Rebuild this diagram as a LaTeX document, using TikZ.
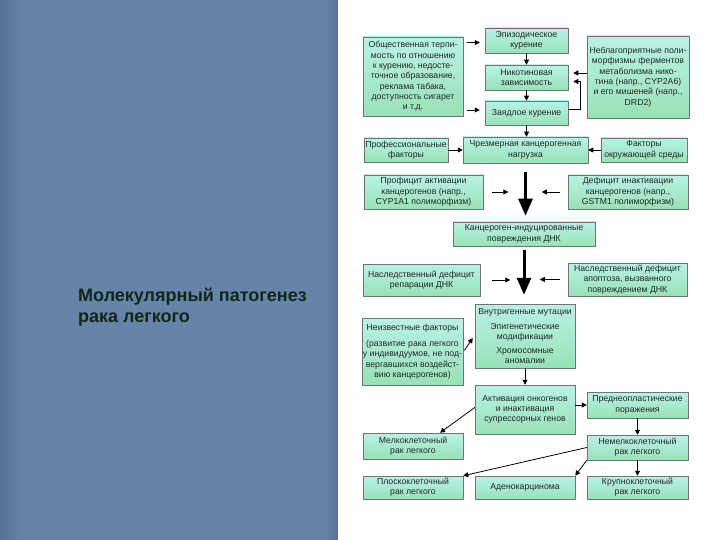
\documentclass[tikz,border=0pt]{standalone}
\usepackage{fontspec}
\setmainfont{Liberation Sans}
\usetikzlibrary{arrows.meta,calc}
\definecolor{bgblue}{RGB}{102,131,169}
\definecolor{bgdark}{RGB}{86,113,152}
\definecolor{boxtop}{RGB}{184,242,230}
\definecolor{boxbot}{RGB}{152,226,182}
\definecolor{titlecol}{RGB}{14,40,22}
\begin{document}
\begin{tikzpicture}[x=1pt,y=-1pt,
  box/.style={draw=black!55, line width=0.5pt, top color=boxtop, bottom color=boxbot,
    align=center, inner sep=1pt, font=\fontsize{8.7}{10.3}\selectfont, text=black!85},
  arr/.style={line width=0.8pt, -{Triangle[length=5pt,width=5pt]}},
  bigarr/.style={line width=3pt, -{Triangle[length=17pt,width=14pt]}}]
\useasboundingbox (0,0) rectangle (720,540);
\fill[bgblue] (0,0) rectangle (338,540);
\shade[left color=bgdark, right color=bgblue] (0,0) rectangle (25,540);
\shade[left color=bgblue, right color=bgdark] (326,0) rectangle (338,540);
\fill[white] (338,0) rectangle (720,540);

\node[anchor=north west, align=left, inner sep=0pt, text=titlecol,
  font=\fontsize{18}{21}\selectfont\bfseries] (title) at (78,288)
  {Молекулярный патогенез\\рака легкого};

% row 1
\node[box, minimum width=100pt, minimum height=79pt] (b1) at (413,76.5)
  {Общественная терпи-\\мость по отношению\\к курению, недосте-\\точное образование,\\реклама табака,\\доступность сигарет\\и т.д.};
\node[box, minimum width=83pt, minimum height=25pt] (b2) at (526.5,40.5) {Эпизодическое\\курение};
\node[box, minimum width=83pt, minimum height=25pt] (b3) at (526.5,77.5) {Никотиновая\\зависимость};
\node[box, minimum width=83pt, minimum height=24pt] (b4) at (526.5,113) {Заядлое курение};
\node[box, minimum width=102pt, minimum height=82pt] (b5) at (638,77)
  {Неблагоприятные поли-\\морфизмы ферментов\\метаболизма нико-\\тина (напр., CYP2A6)\\и его мишеней (напр.,\\DRD2)};

% row 2
\node[box, minimum width=84pt, minimum height=24pt] (b6) at (406,150) {Профессиональные\\факторы};
\node[box, minimum width=125pt, minimum height=26pt] (b7) at (525.5,150) {Чрезмерная канцерогенная\\нагрузка};
\node[box, minimum width=86pt, minimum height=24pt] (b8) at (644,150) {Факторы\\окружающей среды};

\node[box, minimum width=119pt, minimum height=34pt] (b9) at (423.5,192) {Профицит активации\\канцерогенов (напр.,\\CYP1A1 полиморфизм)};
\node[box, minimum width=120pt, minimum height=34pt] (b10) at (628,192) {Дефицит инактивации\\канцерогенов (напр.,\\GSTM1 полиморфизм)};

\node[box, minimum width=142pt, minimum height=24pt] (b11) at (524,234) {Канцероген-индуцированные\\повреждения ДНК};

\node[box, minimum width=117pt, minimum height=32pt] (b12) at (421.5,280) {Наследственный дефицит\\репарации ДНК};
\node[box, minimum width=119pt, minimum height=33pt] (b13) at (627.5,279.5) {Наследственный дефицит\\апоптоза, вызванного\\повреждением ДНК};

\node[box, minimum width=100pt, minimum height=64pt] (b14) at (525,336)
  {Внутригенные мутации\\[5pt]Эпигенетические\\модификации\\[3pt]Хромосомные\\аномалии};
\node[box, minimum width=99pt, minimum height=67pt] (b15) at (412.5,351.5)
  {Неизвестные факторы\\[6pt](развитие рака легкого\\у индивидуумов, не под-\\вергавшихся воздейст-\\вию канцерогенов)};

\node[box, minimum width=100pt, minimum height=49pt] (b16) at (525,409.5) {Активация онкогенов\\и инактивация\\супрессорных генов};
\node[box, minimum width=101pt, minimum height=26pt] (b17) at (637.5,405) {Преднеопластические\\поражения};

\node[box, minimum width=100pt, minimum height=26pt] (b18) at (413,446) {Мелкоклеточный\\рак легкого};
\node[box, minimum width=101pt, minimum height=25pt] (b19) at (637.5,447.5) {Немелкоклеточный\\рак легкого};

\node[box, minimum width=100pt, minimum height=23pt] (b20) at (413,487.5) {Плоскоклеточный\\рак легкого};
\node[box, minimum width=100pt, minimum height=23pt] (b21) at (525,487.5) {Аденокарцинома};
\node[box, minimum width=101pt, minimum height=23pt] (b22) at (637.5,487.5) {Крупноклеточный\\рак легкого};

% connectors, top part
\coordinate (s2) at ($(b1.east |- b2.west)+(4,2)$);
\coordinate (e2) at ($(b2.west)+(-5,2)$);
\draw[arr] (s2) -- (e2);
\coordinate (s4) at ($(b1.east |- b4.west)+(4,-3)$);
\coordinate (e4) at ($(b4.west)+(-5,-3)$);
\draw[arr] (s4) -- (e4);
\draw[arr] (b2) -- (b3);
\draw[arr] (b3) -- (b4);
\draw[arr] (b4) -- (b4.south |- b7.north);
\coordinate (f1) at ($(b5.west)+(0,-4)$);
\coordinate (f1e) at ($(b3.east |- f1)+(5,0)$);
\draw[arr] (f1) -- (f1e);
\coordinate (f2) at ($(b4.east)+(0,-4)$);
\coordinate (f2e) at ($(b3.east)+(5,4)$);
\draw[arr] (f2) -- ++(12,0) |- (f2e);

\draw[arr] (b6) -- (b7);
\draw[arr] (b8) -- (b7);

\draw[bigarr, shorten <=9pt, shorten >=6pt] (b7.south) -- (b7.south |- b11.north);
\draw[arr] ([xshift=9pt]b9.east) -- ([xshift=25pt]b9.east);
\draw[arr] ([xshift=-8pt]b10.west) -- ([xshift=-26pt]b10.west);

\draw[bigarr, shorten <=4pt, shorten >=9pt] (b11.south) -- (b11.south |- b14.north);
\draw[arr] ([xshift=12pt]b12.east) -- ([xshift=30pt]b12.east);
\draw[arr] ([xshift=-8pt]b13.west) -- ([xshift=-28pt]b13.west);

\draw[arr] ($(b15.east)+(1,-1)$) -- ($(b14.west)+(-2,2)$);
\draw[arr] (b14) -- (b16);
\draw[arr] (b16.east |- b17.west) -- (b17.west);
\draw[arr] ($(b16.west)+(0,-2)$) -- ($(b18.north)+(27,0)$);
\draw[arr] (b17) -- (b19);
\draw[arr] (b19.west) -- (b20.north east);
\draw[arr] (b19.south west) -- (b21.north east);
\draw[arr] (b19) -- (b22);
\end{tikzpicture}
\end{document}
